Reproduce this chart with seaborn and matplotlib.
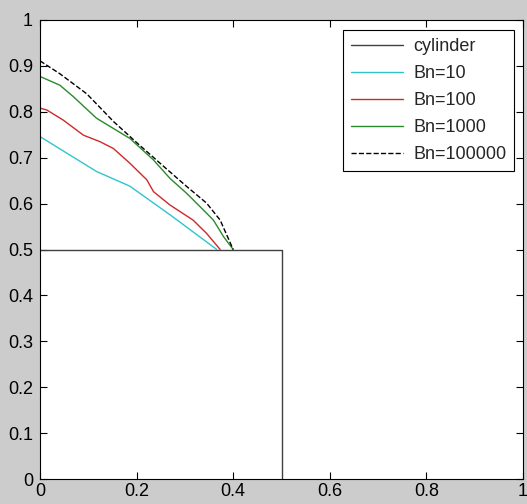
import pandas as pd
import matplotlib
matplotlib.use('Agg')
import matplotlib.pyplot as plt
import seaborn as sns

# --- データ ---
cyl_x = [0.0, 0.5, 0.5]
cyl_y = [0.5, 0.5, 0.0]

bn10_x = [0.0, 0.117, 0.186, 0.27, 0.366]
bn10_y = [0.746, 0.670, 0.638, 0.575, 0.5]

bn100_x = [0.0, 0.014, 0.048, 0.090, 0.124, 0.152, 0.186, 0.221, 0.235, 0.269,
           0.317, 0.345, 0.373]
bn100_y = [0.808, 0.804, 0.782, 0.749, 0.735, 0.720, 0.688, 0.652, 0.626, 0.597,
           0.564, 0.535, 0.5]

bn1000_x = [0.0, 0.041, 0.069, 0.117, 0.186, 0.235, 0.269, 0.304, 0.345, 0.359,
            0.380, 0.400]
bn1000_y = [0.877, 0.858, 0.833, 0.786, 0.742, 0.695, 0.655, 0.622, 0.579, 0.564,
            0.528, 0.5]

bn1e5_x = [0.0, 0.041, 0.097, 0.152, 0.200, 0.255, 0.304, 0.345, 0.373, 0.400]
bn1e5_y = [0.911, 0.883, 0.839, 0.779, 0.733, 0.682, 0.637, 0.601, 0.564, 0.5]

x_ticks = [0, 0.2, 0.4, 0.6, 0.8, 1]
x_labels = ['0', '0.2', '0.4', '0.6', '0.8', '1']
y_ticks = [0, 0.1, 0.2, 0.3, 0.4, 0.5, 0.6, 0.7, 0.8, 0.9, 1]
y_labels = ['0', '0.1', '0.2', '0.3', '0.4', '0.5', '0.6', '0.7', '0.8', '0.9', '1']

series = [
    ('cylinder', cyl_x, cyl_y, '#404040', '-'),
    ('Bn=10', bn10_x, bn10_y, '#30c4cc', '-'),
    ('Bn=100', bn100_x, bn100_y, '#d02828', '-'),
    ('Bn=1000', bn1000_x, bn1000_y, '#2a8a2a', '-'),
    ('Bn=100000', bn1e5_x, bn1e5_y, 'black', '--'),
]

sns.set_style('ticks')
plt.rcParams['font.family'] = ['Liberation Sans', 'DejaVu Sans']

fig = plt.figure(figsize=(5.27, 5.04), dpi=100, facecolor='#cccccc')
ax = fig.add_axes([40 / 527, 25 / 504, 483 / 527, 459 / 504])
ax.set_facecolor('white')

for name, xs, ys, col, ls in series:
    df = pd.DataFrame({'x': xs, 'y': ys})
    sns.lineplot(data=df, x='x', y='y', sort=False, estimator=None,
                 color=col, linestyle=ls, linewidth=1.0, label=name, ax=ax)

ax.set_xlim(0, 1)
ax.set_ylim(0, 1)
ax.set_xticks(x_ticks)
ax.set_xticklabels(x_labels)
ax.set_yticks(y_ticks)
ax.set_yticklabels(y_labels)
ax.set_xlabel('')
ax.set_ylabel('')
ax.tick_params(direction='in', length=5, width=0.8, top=True, right=True,
               labelsize=13, colors='black')
ax.tick_params(axis='x', pad=3)
ax.tick_params(axis='y', pad=5)
for s in ax.spines.values():
    s.set_color('black')
    s.set_linewidth(0.8)

leg = ax.legend(loc='upper right', bbox_to_anchor=(0.982, 0.978), fontsize=13,
                frameon=True, fancybox=False, framealpha=1, edgecolor='black',
                handlelength=2.9, labelspacing=0.55, borderpad=0.45,
                handletextpad=0.55, borderaxespad=0)
leg.get_frame().set_linewidth(0.8)

fig.savefig('out.png', dpi=100, facecolor=fig.get_facecolor())
